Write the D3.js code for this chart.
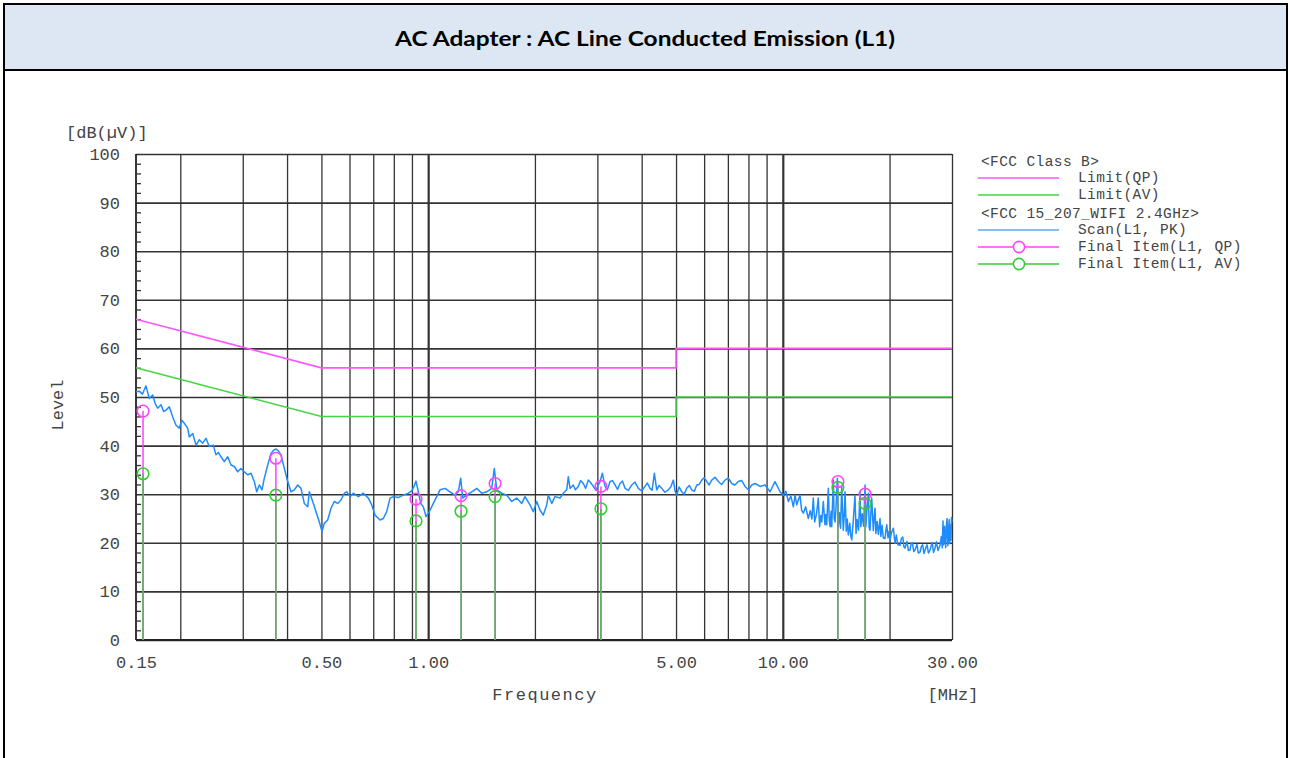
<!DOCTYPE html>
<html>
<head>
<meta charset="utf-8">
<script src="https://cdn.jsdelivr.net/npm/d3@7"></script>
<style>
  html, body { margin: 0; padding: 0; background: #fff; }
  svg { display: block; }
  .mono { font-family: "Liberation Mono", "DejaVu Sans Mono", monospace; fill: #444; }
</style>
</head>
<body>
<svg id="chart" width="1290" height="758"></svg>
<script>
// ---------------- DATA ----------------
const titleText = "AC Adapter : AC Line Conducted Emission (L1)";
const xTickValues = [0.15, 0.5, 1, 5, 10, 30];
const xGridValues = [0.2, 0.3, 0.4, 0.5, 0.6, 0.7, 0.8, 0.9, 1, 2, 3, 4, 5, 6, 7, 8, 9, 10, 20, 30];
const yTickValues = [0, 10, 20, 30, 40, 50, 60, 70, 80, 90, 100];
const yMinorValues = [2,4,6,8,12,14,16,18,22,24,26,28,32,34,36,38,42,44,46,48,52,54,56,58,62,64,66,68,72,74,76,78,82,84,86,88,92,94,96,98];

const limitQP = [[0.15, 66], [0.5, 56], [5, 56], [5, 60], [30, 60]];
const limitAV = [[0.15, 56], [0.5, 46], [5, 46], [5, 50], [30, 50]];

const finalFreq = [0.157, 0.372, 0.924, 1.238, 1.544, 3.07, 14.3, 17.06];
const finalQP   = [47.1, 37.4, 29.0, 29.7, 32.2, 31.6, 32.6, 30.0];
const finalAV   = [34.2, 29.8, 24.5, 26.5, 29.5, 27.0, 31.4, 28.1];

const scan = [
[0.150,51.1],[0.1533,51.2],[0.1565,50.6],[0.160,52.3],[0.1635,49.7],[0.1672,50.4],[0.170,48.6],[0.1727,47.7],[0.1764,48.4],[0.1795,47.0],[0.1823,47.3],[0.1862,48.0],[0.1904,45.9],[0.1945,44.2],[0.1987,43.6],[0.2020,45.2],[0.2052,44.6],[0.2098,43.6],[0.2120,41.8],[0.2168,42.5],[0.2215,40.1],[0.2263,41.2],[0.2313,40.5],[0.2363,41.5],[0.2414,39.8],[0.2478,40.1],[0.2521,38.1],[0.2560,38.6],[0.2605,37.7],[0.2661,36.7],[0.2721,37.7],[0.2780,36.0],[0.2840,35.7],[0.2903,34.6],[0.2966,35.3],[0.3030,34.6],[0.3098,34.0],[0.3165,34.3],[0.3234,32.6],[0.3285,30.5],[0.3340,31.9],[0.3399,30.9],[0.3451,33.3],[0.3528,36.0],[0.3604,38.4],[0.3660,39.0],[0.3723,39.3],[0.3780,38.9],[0.3846,38.1],[0.3929,35.3],[0.4017,32.6],[0.4104,30.5],[0.4193,30.9],[0.4286,31.9],[0.4379,31.2],[0.4474,28.1],[0.4574,27.4],[0.4622,30.5],[0.4725,28.5],[0.4827,26.4],[0.4932,24.3],[0.5019,22.3],[0.5094,24.0],[0.5208,24.7],[0.5321,27.1],[0.5436,28.5],[0.5558,28.1],[0.5678,28.8],[0.5801,30.2],
[0.5892,30.5],[0.6020,29.5],[0.6150,30.2],[0.6353,29.5],[0.6563,30.2],[0.6780,29.2],[0.6931,27.8],[0.7081,25.7],[0.7315,24.7],[0.7473,25.0],[0.7640,26.4],[0.7805,29.2],[0.7974,29.5],[0.8238,29.3],[0.8509,29.8],[0.8790,30.2],[0.8987,30.7],[0.9122,31.6],[0.9241,32.7],[0.9380,30.5],[0.9528,28.1],[0.9690,27.4],[0.9861,25.4],[1.0074,26.4],[1.034,28.1],[1.057,29.5],[1.080,30.9],[1.116,31.2],[1.152,30.5],[1.190,29.8],[1.216,30.5],[1.235,33.3],[1.251,29.2],[1.284,29.8],[1.327,30.5],[1.371,31.2],[1.416,30.2],[1.462,30.5],[1.511,31.2],[1.536,35.3],[1.561,30.9],[1.612,30.2],[1.665,29.8],[1.720,28.5],[1.777,29.2],[1.836,28.1],[1.875,29.5],[1.937,27.8],[1.979,26.4],[2.024,28.5],[2.067,26.7],[2.112,25.7],[2.159,27.8],
[2.182,29.8],[2.231,28.1],[2.279,29.5],[2.354,29.2],[2.405,30.2],[2.459,30.9],[2.484,33.6],[2.512,31.2],[2.566,31.9],[2.60,30.9],[2.651,31.6],[2.69,32.8],[2.738,32.2],[2.78,31.2],[2.829,32.9],[2.87,32.4],[2.922,31.6],[2.97,30.8],[3.018,31.9],[3.05,32.5],[3.098,34.3],[3.153,31.6],[3.20,30.9],[3.257,32.6],[3.31,32.8],[3.364,31.9],[3.42,31.0],[3.475,32.2],[3.53,32.7],[3.590,31.2],[3.67,30.8],[3.750,31.9],[3.83,32.5],[3.914,31.2],[4.00,30.7],[4.088,31.6],[4.15,32.3],[4.223,31.2],[4.28,30.8],[4.343,34.3],[4.411,30.9],[4.48,31.8],[4.557,31.2],[4.65,30.4],[4.756,30.9],[4.83,31.5],[4.913,32.9],[4.97,30.6],[5.023,29.8],[5.10,31.5],[5.189,30.5],[5.27,30.0],[5.359,31.2],[5.45,31.8],[5.537,30.9],[5.63,30.6],[5.720,31.9],[5.81,32.0],[5.909,32.9],[6.00,33.4],[6.104,32.6],[6.20,31.9],[6.305,32.9],[6.44,33.5],[6.579,32.6],[6.72,32.0],[6.872,32.9],[7.02,33.3],[7.178,32.2],[7.33,31.9],[7.492,32.6],[7.66,32.8],[7.825,31.6],[8.00,30.9],[8.174,31.9],
[8.351,32.2],[8.626,31.6],[8.911,31.9],[9.205,30.5],[9.508,32.6],[9.822,30.5],
[10.035,29.8],[10.2,30.6],[10.37,28.5],[10.54,29.6],[10.71,27.4],[10.83,29.8],[10.95,27.8],[11.07,28.9],[11.18,29.8],[11.30,26.7],[11.43,26.1],[11.6,27.4],[11.80,25.0],[11.95,26.6],[12.08,24.9],[12.19,29.2],[12.30,24.3],[12.45,26.0],[12.59,29.2],[12.70,23.3],[12.80,25.6],[12.88,24.3],[13.01,28.5],[13.15,23.7],[13.22,25.8],[13.30,23.7],[13.44,31.2],[13.52,24.6],[13.60,23.3],[13.68,26.5],[13.74,23.3],[13.88,32.9],[13.96,25.1],[14.04,24.3],[14.12,27.0],[14.25,33.3],[14.34,23.3],[14.45,26.2],[14.55,23.0],[14.66,31.6],[14.81,22.6],[14.90,25.4],[14.98,30.5],[15.10,22.4],[15.20,24.9],[15.30,21.6],[15.45,24.0],[15.55,21.4],[15.65,20.6],[15.80,24.5],[15.98,29.8],[16.09,21.9],[16.20,24.8],[16.35,22.6],[16.51,30.5],[16.60,23.3],[16.75,26.0],[16.90,23.4],[17.06,31.9],[17.15,23.3],[17.28,27.4],[17.43,30.2],[17.52,23.1],[17.62,22.6],[17.72,26.3],[17.81,29.2],[18.00,22.5],[18.10,25.2],[18.20,27.1],[18.30,21.9],[18.45,24.4],[18.60,21.7],[18.80,25.0],[18.90,21.3],[19.05,23.6],[19.20,21.0],[19.42,20.9],[19.55,22.8],[19.64,23.7],[19.80,21.0],[19.95,22.4],[20.06,20.6],[20.25,22.1],[20.50,23.0],[20.72,19.9],[20.90,21.6],[21.10,19.6],[21.41,19.5],[21.60,20.9],[21.80,21.2],[21.95,19.2],[22.11,18.9],[22.40,20.3],[22.60,18.4],[22.84,18.5],[23.00,19.8],[23.20,20.0],[23.40,18.2],[23.60,18.5],[23.90,19.7],[24.10,17.9],[24.38,18.1],[24.60,19.3],[24.80,19.6],[25.00,17.8],[25.18,18.5],[25.50,19.6],[25.75,17.9],[26.01,18.5],[26.20,19.4],[26.40,20.0],[26.60,18.0],[26.87,18.9],[27.10,20.2],[27.40,18.4],[27.76,19.5],[28.00,21.3],[28.15,19.0],[28.30,24.5],[28.40,19.6],[28.50,20.5],[28.60,23.4],[28.67,21.3],[28.80,19.0],[28.95,23.8],[29.06,25.0],[29.20,19.4],[29.30,21.5],[29.45,24.8],[29.55,19.8],[29.62,23.7],[29.80,20.5],[29.90,25.2],[30.0,24.3]
];

const legendItems = [
  {type: "header", label: "<FCC Class B>"},
  {type: "line", color: "#ff55ff", label: "Limit(QP)"},
  {type: "line", color: "#44d444", label: "Limit(AV)"},
  {type: "header", label: "<FCC 15_207_WIFI 2.4GHz>"},
  {type: "line", color: "#5aa8f0", label: "Scan(L1, PK)"},
  {type: "marker", color: "#ff44ff", label: "Final Item(L1, QP)"},
  {type: "marker", color: "#33cc33", label: "Final Item(L1, AV)"}
];

// ---------------- DRAW ----------------
(function () {
const svg = d3.select("#chart");
const W = 1290, H = 758;

// frame & header
svg.append("rect").attr("x", 4).attr("y", 4).attr("width", 1283).attr("height", 66)
  .attr("fill", "#dde7f3").attr("stroke", "#000").attr("stroke-width", 2);
svg.append("line").attr("x1", 4).attr("x2", 4).attr("y1", 70).attr("y2", H).attr("stroke", "#000").attr("stroke-width", 2);
svg.append("line").attr("x1", 1287).attr("x2", 1287).attr("y1", 70).attr("y2", H).attr("stroke", "#000").attr("stroke-width", 2);
svg.append("text").attr("x", 645).attr("y", 46).attr("text-anchor", "middle")
  .attr("font-family", "Lato, 'Open Sans', sans-serif").attr("font-weight", "bold")
  .attr("font-size", 21).attr("fill", "#000")
  .attr("textLength", 500).attr("lengthAdjust", "spacingAndGlyphs")
  .text(titleText);

const pLeft = 136, pRight = 952, pTop = 154, pBottom = 640;
const x = d3.scaleLog().domain([0.15, 30]).range([pLeft, pRight]);
const y = d3.scaleLinear().domain([0, 100]).range([pBottom, pTop]);

// horizontal grid + y labels
const yAxis = svg.append("g").attr("transform", `translate(${pLeft},0)`)
  .call(d3.axisLeft(y).tickValues(yTickValues).tickSize(-(pRight - pLeft)).tickPadding(16).tickFormat(d3.format("d")));
yAxis.select(".domain").remove();
yAxis.selectAll(".tick line").attr("stroke", "#333").attr("stroke-width", 1.6);
yAxis.selectAll(".tick text").attr("class", "mono").attr("font-size", 17).attr("fill", "#444");

// vertical grid
const xGrid = svg.append("g").attr("transform", `translate(0,${pBottom})`)
  .call(d3.axisBottom(x).tickValues(xGridValues).tickSize(-(pBottom - pTop)).tickFormat(""));
xGrid.select(".domain").remove();
xGrid.selectAll(".tick line").attr("stroke", "#333")
  .attr("stroke-width", d => (d === 1 || d === 10) ? 2.2 : 1.3);

// x labels
const xAxis = svg.append("g").attr("transform", `translate(0,${pBottom})`)
  .call(d3.axisBottom(x).tickValues(xTickValues).tickSize(0).tickPadding(16).tickFormat(d3.format(".2f")));
xAxis.select(".domain").remove();
xAxis.selectAll(".tick text").attr("class", "mono").attr("font-size", 17).attr("fill", "#444");

// left axis line & minor ticks
svg.append("line").attr("x1", pLeft).attr("x2", pLeft).attr("y1", pTop).attr("y2", pBottom).attr("stroke", "#222").attr("stroke-width", 1.8);
svg.append("line").attr("x1", pLeft).attr("x2", pRight).attr("y1", pBottom).attr("y2", pBottom).attr("stroke", "#222").attr("stroke-width", 1.8);
const minor = svg.append("g").attr("transform", `translate(${pLeft},0)`)
  .call(d3.axisRight(y).tickValues(yMinorValues).tickSize(5).tickFormat(""));
minor.select(".domain").remove();
minor.selectAll(".tick line").attr("stroke", "#333").attr("stroke-width", 1.3);

// axis titles
svg.append("text").attr("class", "mono").attr("x", 66).attr("y", 138).attr("font-size", 17).text("[dB(\u00b5V)]");
svg.append("text").attr("class", "mono").attr("transform", "translate(63,405) rotate(-90)").attr("text-anchor", "middle").attr("font-size", 17).text("Level");
svg.append("text").attr("class", "mono").attr("x", 545).attr("y", 700).attr("text-anchor", "middle").attr("font-size", 17).attr("letter-spacing", 1.5).text("Frequency");
svg.append("text").attr("class", "mono").attr("x", 953).attr("y", 700).attr("text-anchor", "middle").attr("font-size", 17).text("[MHz]");

// limits
const line = d3.line().x(d => x(d[0])).y(d => y(d[1]));
svg.append("path").datum(limitQP).attr("d", line).attr("fill", "none").attr("stroke", "#ff55ff").attr("stroke-width", 1.6);
svg.append("path").datum(limitAV).attr("d", line).attr("fill", "none").attr("stroke", "#44d444").attr("stroke-width", 1.6);

// scan
svg.append("path").datum(scan).attr("d", line).attr("fill", "none").attr("stroke", "#1e8cff").attr("stroke-width", 1.5).attr("stroke-linejoin", "round");

// final items
const items = finalFreq.map((f, i) => ({f, qp: finalQP[i], av: finalAV[i]}));
svg.selectAll(".qpstem").data(items).enter().append("line")
  .attr("x1", d => x(d.f)).attr("x2", d => x(d.f)).attr("y1", d => y(d.qp)).attr("y2", y(0))
  .attr("stroke", "#ff33ff").attr("stroke-width", 1.4);
svg.selectAll(".avstem").data(items).enter().append("line")
  .attr("x1", d => x(d.f)).attr("x2", d => x(d.f)).attr("y1", d => y(d.av)).attr("y2", y(0))
  .attr("stroke", "#33cc33").attr("stroke-width", 1.4);
svg.selectAll(".qpc").data(items).enter().append("circle")
  .attr("cx", d => x(d.f)).attr("cy", d => y(d.qp)).attr("r", 5.8)
  .attr("fill", "none").attr("stroke", "#ff44ff").attr("stroke-width", 1.6);
svg.selectAll(".avc").data(items).enter().append("circle")
  .attr("cx", d => x(d.f)).attr("cy", d => y(d.av)).attr("r", 5.8)
  .attr("fill", "none").attr("stroke", "#33cc33").attr("stroke-width", 1.6);

// legend
const lg = svg.append("g");
const rowY = [161, 178, 195, 213, 230, 247, 264];
legendItems.forEach((it, i) => {
  const yy = rowY[i];
  if (it.type === "header") {
    lg.append("text").attr("class", "mono").attr("x", 981).attr("y", yy + 5).attr("font-size", 14.5).attr("letter-spacing", 0.4).text(it.label);
  } else {
    lg.append("line").attr("x1", 978).attr("x2", 1059).attr("y1", yy).attr("y2", yy).attr("stroke", it.color).attr("stroke-width", 1.6);
    if (it.type === "marker") {
      lg.append("circle").attr("cx", 1019).attr("cy", yy).attr("r", 5.6).attr("fill", "#fff").attr("stroke", it.color).attr("stroke-width", 1.6);
    }
    lg.append("text").attr("class", "mono").attr("x", 1078).attr("y", yy + 4).attr("font-size", 14.5).attr("letter-spacing", 0.4).text(it.label);
  }
});
})();
</script>
</body>
</html>
